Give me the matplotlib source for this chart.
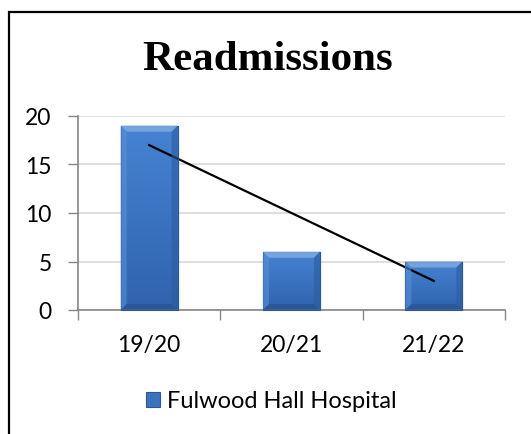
import numpy as np
import matplotlib
matplotlib.use("Agg")
import matplotlib.pyplot as plt
from matplotlib.patches import Polygon, Rectangle
from matplotlib.transforms import IdentityTransform
from matplotlib.colors import LinearSegmentedColormap

categories = ["19/20", "20/21", "21/22"]
values = [19, 6, 5]
series_name = "Fulwood Hall Hospital"
title = "Readmissions"
yticks = [0, 5, 10, 15, 20]

W, H, DPI = 531, 435, 100
fig = plt.figure(figsize=(W / DPI, H / DPI), dpi=DPI)
fig.patch.set_facecolor("white")

L, R, T, B = 78, 505, 117, 311
ax = fig.add_axes([L / W, 1 - B / H, (R - L) / W, (B - T) / H])

x = np.arange(len(categories))
bars = ax.bar(x, values, width=0.4, color="#3A72C0", edgecolor="#2B5794",
              linewidth=0.8, zorder=3, label=series_name)

# linear trendline
coef = np.polyfit(x, values, 1)
ax.plot(x, np.polyval(coef, x), color="black", lw=1.6, zorder=5)

ax.set_xlim(-0.5, len(categories) - 0.5)
ax.set_ylim(0, 20)
ax.set_yticks(yticks)
ax.set_xticks(x)
ax.set_xticklabels(categories)
ax.set_xticks(np.arange(len(categories) + 1) - 0.5, minor=True)

font = "Lato"
ax.tick_params(axis="x", which="major", length=0, pad=17, labelsize=16.5,
               labelfontfamily=font, labelcolor="black")
ax.tick_params(axis="x", which="minor", length=7, width=1, color="#868686",
               direction="out")
ax.tick_params(axis="y", length=7, width=1, color="#868686", pad=12,
               labelsize=16.5, labelfontfamily=font, labelcolor="black")
ax.yaxis.grid(True, color="#D9D9D9", lw=1.2, zorder=0)
ax.set_axisbelow(True)
for s in ["top", "right"]:
    ax.spines[s].set_visible(False)
for s in ["left", "bottom"]:
    ax.spines[s].set_color("#868686")
    ax.spines[s].set_linewidth(1.2)
    ax.spines[s].set_zorder(6)

fig.text(267.5 / W, 1 - 60 / H, title, ha="center", va="center",
         family="Liberation Serif", weight="bold", fontsize=31)

leg = fig.legend(handles=[bars[0]], labels=[series_name], loc="center",
                 bbox_to_anchor=(271.5 / W, 1 - 402 / H), frameon=False,
                 prop={"family": font, "size": 17}, handlelength=0.6,
                 handleheight=0.6, handletextpad=0.3)

# outer chart border (right and bottom off-image); display coords origin bottom-left
fig.patches.append(Rectangle((9, -100), 600, H - 13 + 100,
                             transform=IdentityTransform(),
                             fill=False, edgecolor="black", lw=1.6,
                             figure=fig))

# bevel / gradient effect on bars
fig.canvas.draw()
grad = LinearSegmentedColormap.from_list("g", ["#4683D2", "#2F63AE"])
for rect in bars:
    bb = rect.get_window_extent()
    x0, y0, x1, y1 = bb.x0, bb.y0, bb.x1, bb.y1
    im = ax.imshow(np.linspace(0, 1, 64).reshape(-1, 1), cmap=grad,
                   extent=[rect.get_x(), rect.get_x() + rect.get_width(),
                           0, rect.get_height()],
                   aspect="auto", zorder=3.5, origin="upper")
    im.set_clip_path(rect)
    b = 6
    polys = [
        ([(x0, y1), (x1, y1), (x1 - b, y1 - b), (x0 + b, y1 - b)], "#7AA7E0", 0.9),
        ([(x0, y1), (x0 + b, y1 - b), (x0 + b, y0 + b), (x0, y0)], "#5B8FD6", 0.6),
        ([(x1, y1), (x1 - b, y1 - b), (x1 - b, y0 + b), (x1, y0)], "#2C5C9E", 0.6),
        ([(x0, y0), (x0 + b, y0 + b), (x1 - b, y0 + b), (x1, y0)], "#274F8C", 0.6),
    ]
    for pts, c, a in polys:
        fig.patches.append(Polygon(pts, closed=True, transform=IdentityTransform(),
                                   facecolor=c, alpha=a, edgecolor="none",
                                   zorder=4, figure=fig))
    fig.patches.append(Rectangle((x0, y0), x1 - x0, y1 - y0,
                                 transform=IdentityTransform(), fill=False,
                                 edgecolor="#2B5794", lw=0.8, figure=fig))
ax.set_xlim(-0.5, len(categories) - 0.5)
ax.set_ylim(0, 20)

fig.savefig("out.png", dpi=DPI, facecolor="white")
